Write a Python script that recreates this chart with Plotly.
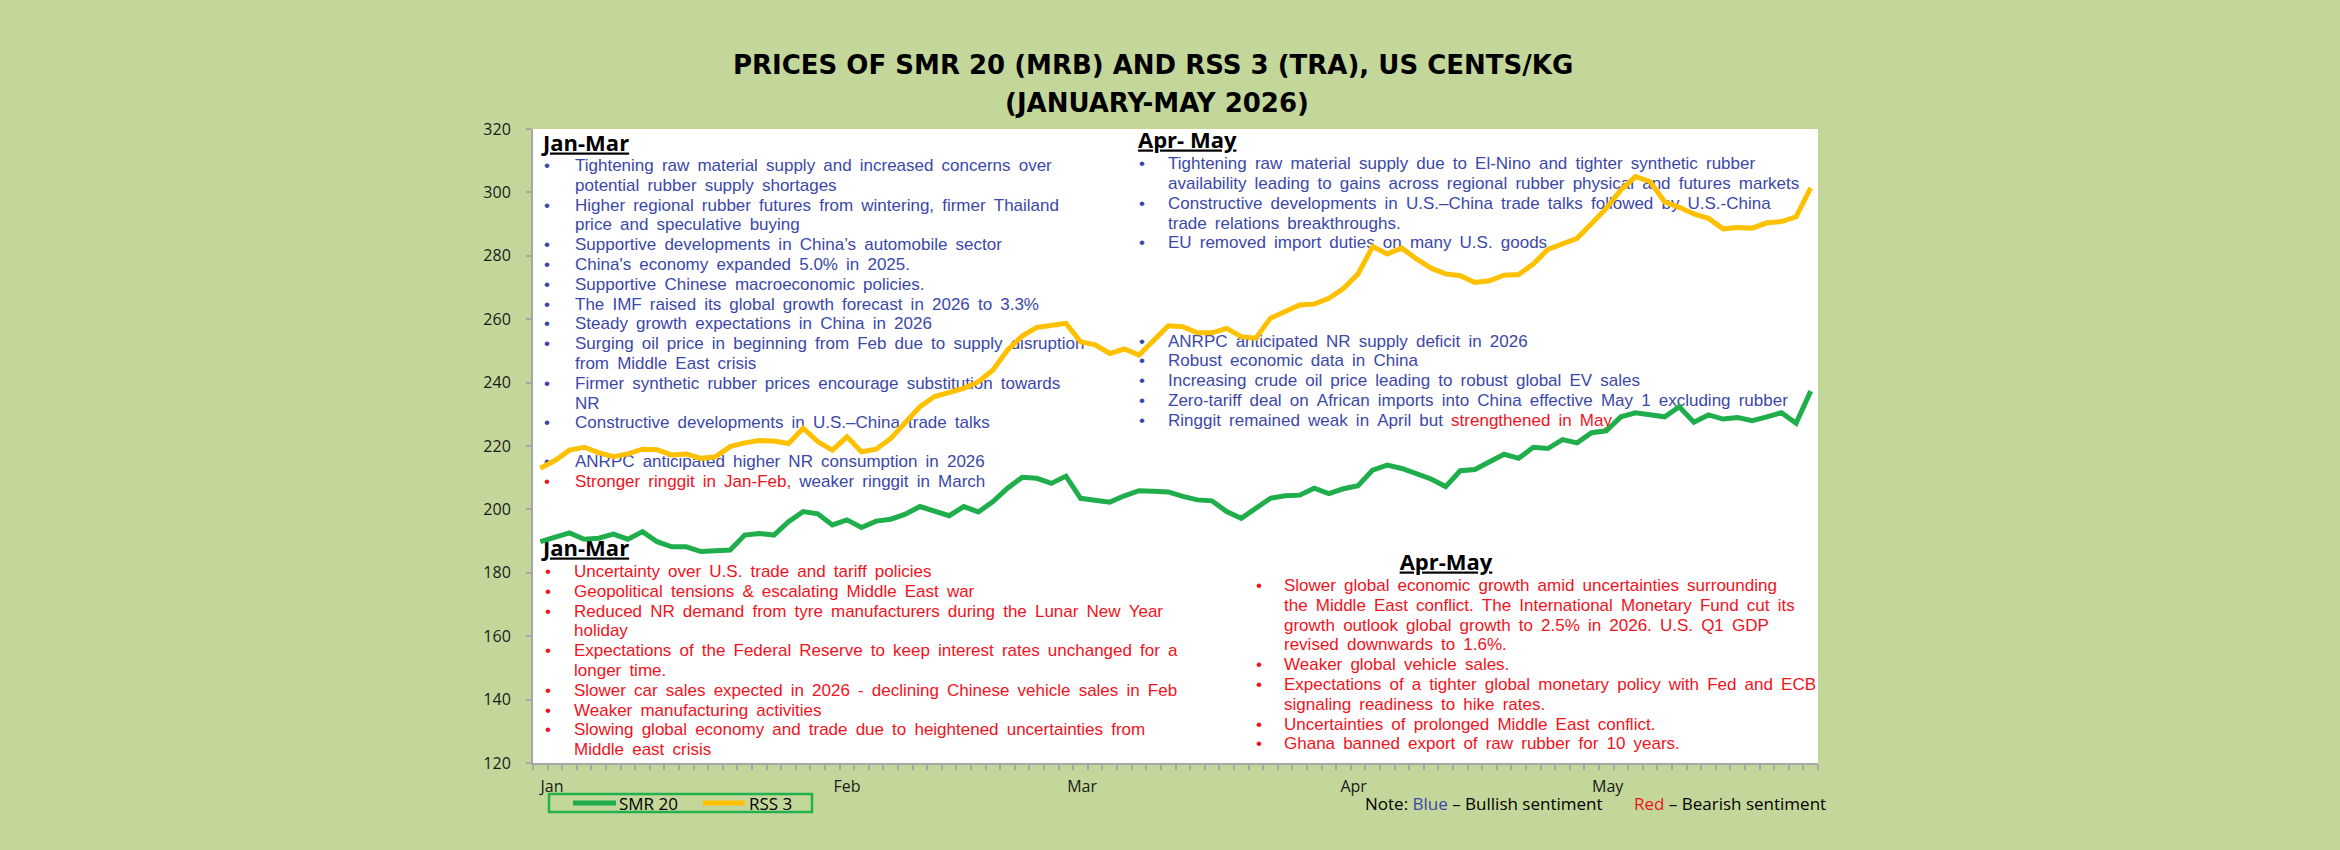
import plotly.graph_objects as go

# ---------------- data ----------------
months = ["Jan", "Feb", "Mar", "Apr", "May"]

smr20 = [189.8, 191.2, 192.6, 190.6, 190.9, 192.2, 190.6, 193.0, 189.8, 188.2,
         188.2, 186.7, 187.0, 187.2, 191.9, 192.4, 191.9, 196.1, 199.3, 198.6,
         195.1, 196.7, 194.3, 196.3, 196.9, 198.5, 200.9, 199.6, 198.0, 200.9,
         199.2, 202.5, 206.7, 210.1, 209.8, 208.2, 210.5, 203.5, 202.8, 202.3,
         204.3, 205.9, 205.7, 205.5, 204.1, 203.0, 202.7, 199.3, 197.2, 200.3,
         203.5, 204.3, 204.5, 206.7, 205.0, 206.5, 207.5, 212.4, 214.0, 212.9,
         211.4, 209.6, 207.2, 212.2, 212.6, 215.0, 217.4, 216.1, 219.6, 219.2,
         222.0, 221.0, 224.2, 224.8, 229.2, 230.5, 229.8, 229.2, 232.4, 227.5,
         229.8, 228.5, 229.0, 228.0, 229.2, 230.5, 227.2, 237.3]

rss3 = [213.0, 215.4, 218.7, 219.6, 217.9, 216.6, 217.5, 219.0, 218.8, 217.2,
        217.5, 216.1, 216.6, 219.8, 221.0, 221.7, 221.6, 220.8, 225.6, 221.4,
        218.7, 222.9, 218.2, 219.0, 222.4, 227.7, 232.4, 235.6, 237.1, 238.2,
        240.3, 244.0, 250.3, 254.7, 257.4, 258.2, 258.7, 252.9, 251.9, 249.2,
        250.6, 248.7, 253.4, 257.9, 257.6, 255.7, 255.7, 257.1, 254.5, 254.0,
        260.3, 262.4, 264.5, 264.8, 266.6, 269.7, 274.3, 282.9, 280.6, 282.4,
        279.0, 276.1, 274.3, 273.7, 271.6, 272.1, 273.9, 274.1, 277.4, 282.0,
        283.6, 285.5, 290.2, 295.0, 300.8, 305.0, 303.4, 297.0, 295.3, 293.2,
        291.8, 288.5, 288.9, 288.7, 290.4, 290.8, 292.3, 301.4]

title_lines = ["PRICES OF SMR 20 (MRB) AND RSS 3 (TRA), US CENTS/KG",
               "(JANUARY-MAY 2026)"]

# sentiment text: "bull" = blue, "bear" = red
bull_janmar_a = [
    ["Tightening raw material supply and increased concerns over",
     "potential rubber supply shortages"],
    ["Higher regional rubber futures from wintering, firmer Thailand",
     "price and speculative buying"],
    ["Supportive developments in China\u2019s automobile sector"],
    ["China's economy expanded 5.0% in 2025."],
    ["Supportive Chinese macroeconomic policies."],
    ["The IMF raised its global growth forecast in 2026 to 3.3%"],
    ["Steady growth expectations in China in 2026"],
    ["Surging oil price in beginning from Feb due to supply disruption",
     "from Middle East crisis"],
    ["Firmer synthetic rubber prices encourage substitution towards",
     "NR"],
    ["Constructive developments in U.S.\u2013China trade talks"],
]
bull_janmar_b = [
    ("bull", [[("ANRPC anticipated higher NR consumption in 2026", "bull")]]),
    ("bear", [[("Stronger ringgit in Jan-Feb,", "bear"),
               (" weaker ringgit in March", "bull")]]),
]
bull_aprmay_a = [
    ["Tightening raw material supply due to El-Nino and tighter synthetic rubber",
     "availability leading to gains across regional rubber physical and futures markets"],
    ["Constructive developments in U.S.\u2013China trade talks followed by U.S.-China",
     "trade relations breakthroughs."],
    ["EU removed import duties on many U.S. goods"],
]
bull_aprmay_b = [
    ("bull", [[("ANRPC anticipated NR supply deficit in 2026", "bull")]]),
    ("bull", [[("Robust economic data in China", "bull")]]),
    ("bull", [[("Increasing crude oil price leading to robust global EV sales", "bull")]]),
    ("bull", [[("Zero-tariff deal on African imports into China effective May 1 excluding rubber", "bull")]]),
    ("bull", [[("Ringgit remained weak in April but ", "bull"),
               ("strengthened in May", "bear")]]),
]
bear_janmar = [
    ["Uncertainty over U.S. trade and tariff policies"],
    ["Geopolitical tensions & escalating Middle East war"],
    ["Reduced NR demand from tyre manufacturers during the Lunar New Year",
     "holiday"],
    ["Expectations of the Federal Reserve to keep interest rates unchanged for a",
     "longer time."],
    ["Slower car sales expected in 2026 - declining Chinese vehicle sales in Feb"],
    ["Weaker manufacturing activities"],
    ["Slowing global economy and trade due to heightened uncertainties from",
     "Middle east crisis"],
]
bear_aprmay = [
    ["Slower global economic growth amid uncertainties surrounding",
     "the Middle East conflict. The International Monetary Fund cut its",
     "growth outlook global growth to 2.5% in 2026. U.S. Q1 GDP",
     "revised downwards to 1.6%."],
    ["Weaker global vehicle sales."],
    ["Expectations of a tighter global monetary policy with Fed and ECB",
     "signaling readiness to hike rates."],
    ["Uncertainties of prolonged Middle East conflict."],
    ["Ghana banned export of raw rubber for 10 years."],
]
series_names = ["SMR 20", "RSS 3"]

# ---------------- styling / layout ----------------
W, H = 2340, 850
L, R, T, B = 533, 1818, 129, 763
Y0, Y1 = 120, 320
N = len(smr20)
BG = "#C4D79B"
GREEN = "#1FAE4B"
GOLD = "#FFC000"
BLUE = "#3B48A8"
RED = "#F2121B"
COLORS = {"bull": BLUE, "bear": RED}
BODY = "Liberation Sans, Arial, sans-serif"
SANS = "Open Sans, sans-serif"
LINE_H = 19.8


def fx(X):
    return (X - L) / (R - L)


def fy(Y):
    return (B - Y) / (B - T)


# pixel -> data coordinates (for text drawn underneath the lines)
def dx(X):
    return -0.5 + (X - L) / (R - L) * N


def dy(Y):
    return Y0 + (B - Y) / (B - T) * (Y1 - Y0)


annotations = []
inplot = dict(x=[], y=[], text=[], size=[], color=[], family=[], pos=[])


def add_text(X, Y, text, size=17, color="black", family=BODY, xanchor="left"):
    annotations.append(dict(
        x=fx(X), y=fy(Y), xref="paper", yref="paper", text=text,
        showarrow=False, xanchor=xanchor, yanchor="middle",
        font=dict(size=size, color=color, family=family),
        borderpad=0))


def add_plot_text(X, Y, text, size=17, color="black", family=BODY, center=False):
    inplot["x"].append(dx(X))
    inplot["y"].append(dy(Y))
    inplot["text"].append(text)
    inplot["size"].append(size)
    inplot["color"].append(color)
    inplot["family"].append(family)
    inplot["pos"].append("middle center" if center else "middle right")


def wide(t):
    # the original slide uses generous (justified) word spacing
    return t.replace(" ", " \u2009")


def seg_html(segs):
    return "".join(f"<span style='color:{COLORS[s]}'>{wide(t)}</span>" for t, s in segs)


def add_block(items, x_bullet, x_text, y0, default="bull"):
    y = y0
    for it in items:
        if isinstance(it, tuple):
            bcol, lines = it
        else:
            bcol, lines = default, [[(ln, default)] for ln in it]
        add_plot_text(x_bullet, y, "\u2022", color=COLORS[bcol])
        for ln in lines:
            add_plot_text(x_text, y, seg_html(ln))
            y += LINE_H
    return y


def header(X, Y, text, center=False):
    add_plot_text(X, Y, f"<b><u>{text}</u></b>", size=22, family=SANS, center=center)


# text blocks (inside the plot area, drawn below the price lines)
header(543, 145, "Jan-Mar")
add_block(bull_janmar_a, 544, 575, 166.7, "bull")
add_block(bull_janmar_b, 544, 575, 463.0)

header(1138, 142, "Apr- May")
add_block(bull_aprmay_a, 1139, 1168, 165.0, "bull")
add_block(bull_aprmay_b, 1139, 1168, 342.3)

header(543, 550, "Jan-Mar")
add_block(bear_janmar, 545, 574, 572.7, "bear")

header(1446, 564, "Apr-May", center=True)
add_block(bear_aprmay, 1256, 1284, 586.7, "bear")

# title
add_text(1153, 65, f"<b>{title_lines[0]}</b>", size=26,
         family="DejaVu Sans, sans-serif", xanchor="center")
add_text(1157, 103, f"<b>{title_lines[1]}</b>", size=26,
         family="DejaVu Sans, sans-serif", xanchor="center")

# note
add_text(1364, 803, f"Note: <span style='color:{BLUE}'>Blue</span> \u2013 Bullish sentiment",
         size=17, family=SANS)
add_text(1633, 803, f"<span style='color:{RED}'>Red</span> \u2013 Bearish sentiment",
         size=17, family=SANS)

# manual legend
shapes = [dict(type="rect", xref="paper", yref="paper",
               x0=fx(549), x1=fx(812), y0=fy(794), y1=fy(812),
               line=dict(color="#22B14C", width=2.5), fillcolor="rgba(0,0,0,0)")]
for (x0, x1, xt), name, col in zip([(573, 616, 618), (703, 745, 748)], series_names, [GREEN, GOLD]):
    shapes.append(dict(type="line", xref="paper", yref="paper",
                       x0=fx(x0), x1=fx(x1), y0=fy(803), y1=fy(803),
                       line=dict(color=col, width=5)))
    add_text(xt, 803, name, size=17, family=SANS)

x = list(range(N))
fig = go.Figure()
fig.add_trace(go.Scatter(
    x=inplot["x"], y=inplot["y"], text=inplot["text"], mode="text",
    textposition=inplot["pos"], hoverinfo="skip", showlegend=False,
    cliponaxis=False,
    textfont=dict(size=inplot["size"], color=inplot["color"], family=inplot["family"])))
fig.add_trace(go.Scatter(x=x, y=smr20, mode="lines", name=series_names[0],
                         line=dict(color=GREEN, width=5), showlegend=False))
fig.add_trace(go.Scatter(x=x, y=rss3, mode="lines", name=series_names[1],
                         line=dict(color=GOLD, width=5), showlegend=False))

month_pos = [0.8, 21.0, 37.1, 55.7, 73.1]

fig.update_layout(
    width=W, height=H, autosize=False,
    margin=dict(l=L, r=W - R, t=T, b=H - B, pad=0),
    paper_bgcolor=BG, plot_bgcolor="white",
    annotations=annotations, shapes=shapes,
    xaxis=dict(range=[-0.5, N - 0.5], showgrid=False, zeroline=False,
               showline=True, linecolor="#A6A6A6", linewidth=2,
               tickmode="array", tickvals=month_pos, ticktext=months,
               ticks="", ticklabelstandoff=8,
               tickfont=dict(family=SANS, size=16, color="#1a1a1a"),
               minor=dict(tickmode="linear", tick0=-0.5, dtick=1, ticks="outside",
                          ticklen=5, tickwidth=1.5, tickcolor="#A6A6A6", showgrid=False)),
    yaxis=dict(range=[Y0, Y1], tick0=Y0, dtick=20, showgrid=False, zeroline=False,
               showline=True, linecolor="#A6A6A6", linewidth=2,
               ticks="outside", ticklen=5, tickwidth=1.5, tickcolor="#A6A6A6",
               ticklabelstandoff=12,
               tickfont=dict(family=SANS, size=16, color="#1a1a1a")),
)

fig.write_html("out.html")
